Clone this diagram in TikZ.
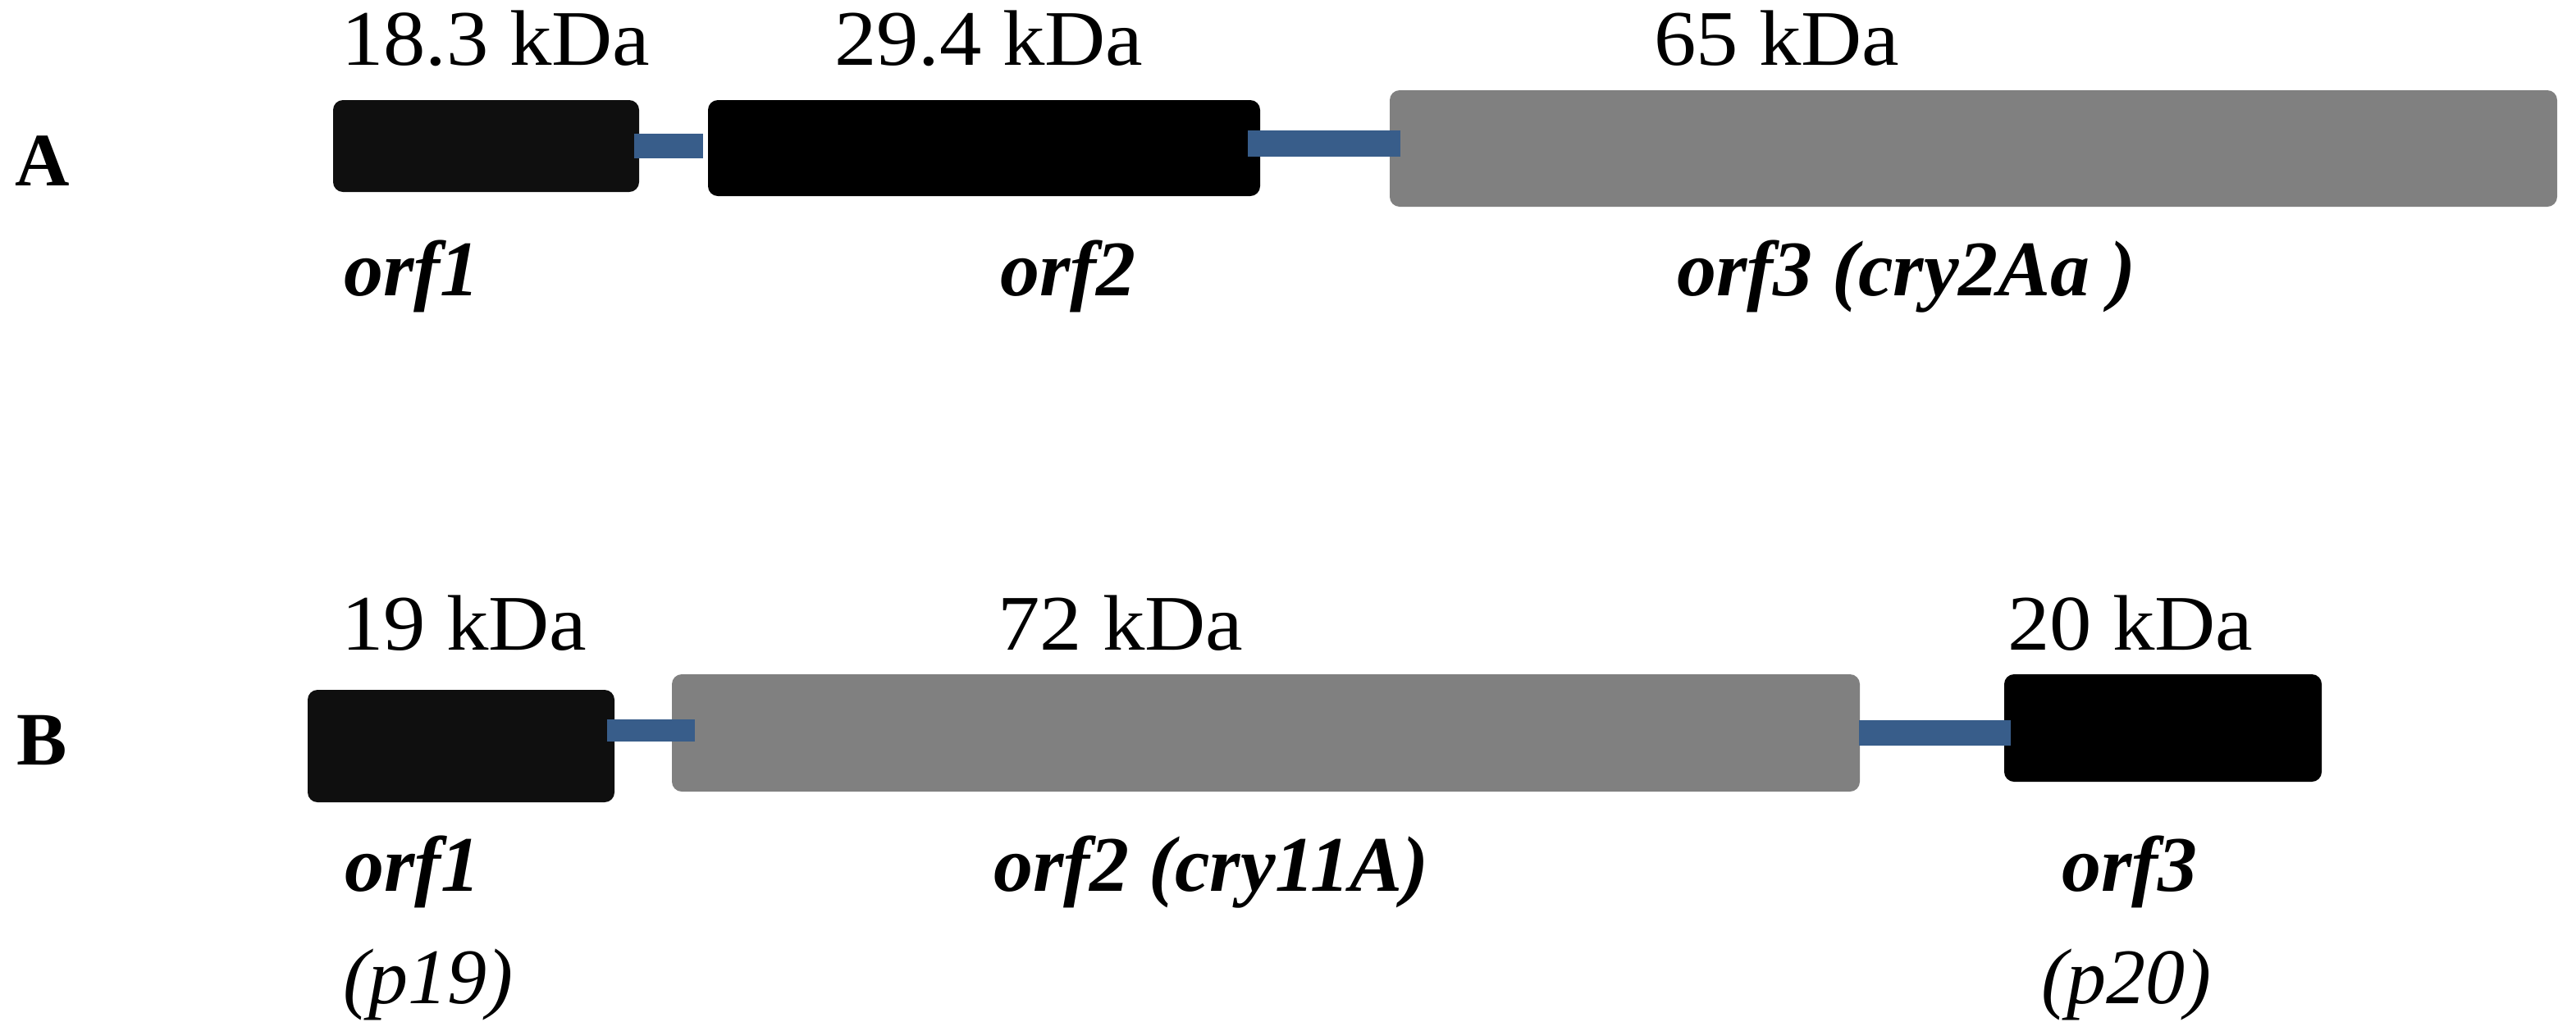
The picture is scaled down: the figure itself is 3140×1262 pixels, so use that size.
\documentclass[tikz,border=0pt]{standalone}
\usepackage{fontspec}
\setmainfont{Liberation Serif}
\newfontfamily\kdafont{Liberation Serif}[FakeStretch=1.07]
\definecolor{nearblack}{HTML}{0F0F0F}
\definecolor{genegray}{HTML}{808080}
\definecolor{linkblue}{HTML}{385D8A}
\tikzset{
  gene/.style={rectangle, rounded corners=12pt, draw=none, inner sep=0pt},
  link/.style={draw=linkblue, line cap=butt},
  lbl/.style={anchor=base west, inner sep=0pt, outer sep=0pt, font=\fontsize{96}{100}\kdafont},
  orf/.style={anchor=base west, inner sep=0pt, outer sep=0pt, font=\fontsize{96}{100}\selectfont\bfseries\itshape},
  prot/.style={anchor=base west, inner sep=0pt, outer sep=0pt, font=\fontsize{96}{100}\selectfont\itshape},
  panel/.style={anchor=base west, inner sep=0pt, font=\fontsize{92}{100}\selectfont\bfseries}
}
\begin{document}
\begin{tikzpicture}[x=1pt,y=-1pt]
\useasboundingbox (0,0) rectangle (3140,1262);
% Row A
\node[panel] (A) at (18,226) {A};
\node[gene, fill=nearblack, minimum width=373pt, minimum height=112pt] (a1) at (592.5,178) {};
\node[gene, fill=black, minimum width=673pt, minimum height=117pt] (a2) at (1199.5,180.5) {};
\node[gene, fill=genegray, minimum width=1423pt, minimum height=142pt] (a3) at (2405.5,181) {};
\draw[link, line width=30pt] ([xshift=-6pt]a1.east) -- ([xshift=-6pt,yshift=2.5pt]a2.west);
\draw[link, line width=32pt] ([xshift=-15pt,yshift=5.5pt]a2.east) -- ([xshift=13pt,yshift=6pt]a3.west);
\node[lbl] (ka1) at (416,79) {18.3 kDa};
\node[lbl] (ka2) at (1017,79) {29.4 kDa};
\node[lbl] (ka3) at (2016,79) {65 kDa};
\node[orf] (oa1) at (419,360) {orf1};
\node[orf] (oa2) at (1219,360) {orf2};
\node[orf] (oa3) at (2044,360) {orf3 (cry2Aa )};
% Row B
\node[panel] (B) at (20,932) {B};
\node[gene, fill=nearblack, minimum width=374pt, minimum height=137pt] (b1) at (562,909.5) {};
\node[gene, fill=genegray, minimum width=1448pt, minimum height=143pt] (b2) at (1543,893.5) {};
\node[gene, fill=black, minimum width=387pt, minimum height=131pt] (b3) at (2636.5,887.5) {};
\draw[link, line width=27pt] ([xshift=-9pt,yshift=19.5pt]b1.east) -- ([xshift=28pt,yshift=3.5pt]b2.west);
\draw[link, line width=31pt] ([xshift=-1pt]b2.east) -- ([xshift=8pt,yshift=-6pt]b3.west);
\node[lbl] (kb1) at (416,792) {19 kDa};
\node[lbl] (kb2) at (1216,792) {72 kDa};
\node[lbl] (kb3) at (2447,792) {20 kDa};
\node[orf] (ob1) at (420,1086) {orf1};
\node[orf] (ob2) at (1211,1086) {orf2 (cry11A)};
\node[orf] (ob3) at (2513,1086) {orf3};
\node[prot] (pb1) at (418,1223) {(p19)};
\node[prot] (pb3) at (2488,1223) {(p20)};
\end{tikzpicture}
\end{document}
